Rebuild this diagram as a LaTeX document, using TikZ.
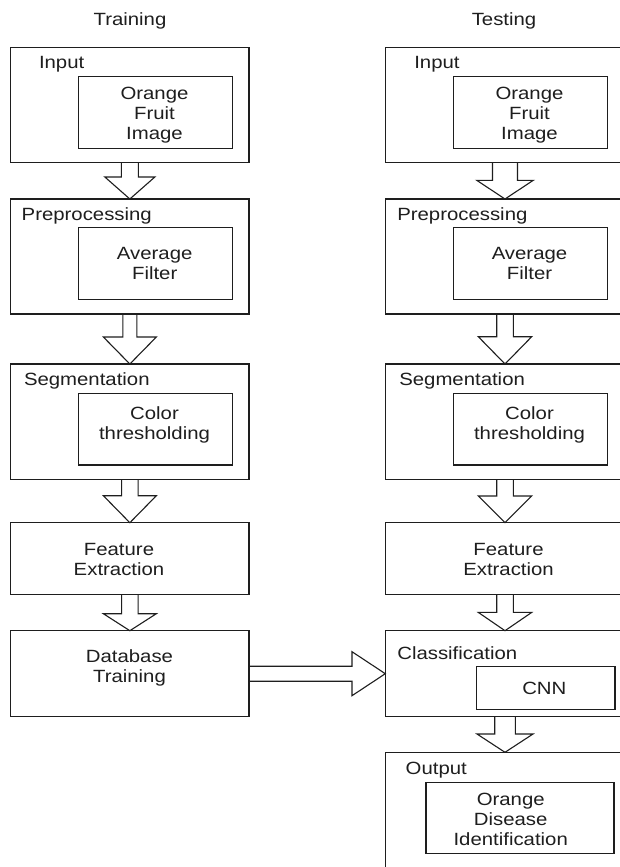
\documentclass[tikz,border=0pt]{standalone}
\usepackage{fontspec}
\setmainfont{Liberation Sans}[FakeStretch=1.15]
\usetikzlibrary{calc}
\definecolor{ink}{RGB}{30,30,30}
\tikzset{
  box/.style={draw=ink, line width=1.1pt, inner sep=0pt, outer sep=0pt, anchor=north west},
  txt/.style={text=ink, font=\fontsize{17.7}{20}\selectfont, inner sep=0pt, outer sep=0pt, align=center},
  blk/.style={draw=ink, line width=1.1pt, line join=miter},
}
% vertical block arrow: from, to, shaft half width, head half width, head length
\newcommand\varrow[5]{\draw[blk] ($(#1.south)+(-#3,0)$) -- ($(#2.north)+(-#3,-#5)$) -- ($(#2.north)+(-#4,-#5)$) -- (#2.north) -- ($(#2.north)+(#4,-#5)$) -- ($(#2.north)+(#3,-#5)$) -- ($(#1.south)+(#3,0)$);}
\begin{document}
\begin{tikzpicture}[x=1pt,y=-1pt]
\useasboundingbox (0,0) rectangle (620,867);
\fill[white] (0,0) rectangle (620,867);
\clip (0,0) rectangle (620,867);

% column titles
\node[txt, anchor=north] (ttrain) at (130,12.3) {Training};
\node[txt, anchor=north] (ttest) at (504,12.3) {Testing};

% ---------- Training column ----------
\node[box, minimum width=238.3pt, minimum height=115pt] (inL) at (10.7,47.7) {};
\node[txt, anchor=north west] (inLlab) at (39,56.7) {Input};
\node[box, minimum width=153.6pt, minimum height=72pt] (inLi) at (78.7,76.3) {};
\node[txt, anchor=north] (inLt) at (154.5,86.8) {Orange\\Fruit\\Image};

\node[box, minimum width=238.3pt, minimum height=115pt] (preL) at (10.7,199) {};
\node[txt, anchor=north west] (preLlab) at (21.7,207.3) {Preprocessing};
\node[box, minimum width=153.6pt, minimum height=71.6pt] (preLi) at (78.7,227.7) {};
\node[txt, anchor=north] (preLt) at (154.7,247.7) {Average\\Filter};

\node[box, minimum width=238.3pt, minimum height=115.3pt] (segL) at (10.7,364) {};
\node[txt, anchor=north west] (segLlab) at (24,372.3) {Segmentation};
\node[box, minimum width=153.6pt, minimum height=71.7pt] (segLi) at (78.7,393.3) {};
\node[txt, anchor=north] (segLt) at (154.5,406.7) {Color\\thresholding};

\node[box, minimum width=238.3pt, minimum height=71.6pt] (feaL) at (10.7,522.7) {};
\node[txt, anchor=north] (feaLt) at (119,543.3) {Feature\\Extraction};

\node[box, minimum width=238.3pt, minimum height=86pt] (dbL) at (10.7,630.7) {};
\node[txt, anchor=north] (dbLt) at (129.5,650) {Database\\Training};

% ---------- Testing column ----------
\node[box, minimum width=239.4pt, minimum height=115pt] (inR) at (385.3,47.7) {};
\node[txt, anchor=north west] (inRlab) at (414.3,56.7) {Input};
\node[box, minimum width=154pt, minimum height=72pt] (inRi) at (453.3,76.3) {};
\node[txt, anchor=north] (inRt) at (529.5,86.8) {Orange\\Fruit\\Image};

\node[box, minimum width=239.4pt, minimum height=115pt] (preR) at (385.3,199) {};
\node[txt, anchor=north west] (preRlab) at (397.3,207.3) {Preprocessing};
\node[box, minimum width=154pt, minimum height=71.6pt] (preRi) at (453.3,227.7) {};
\node[txt, anchor=north] (preRt) at (529.5,247.7) {Average\\Filter};

\node[box, minimum width=239.4pt, minimum height=115.3pt] (segR) at (385.3,364) {};
\node[txt, anchor=north west] (segRlab) at (399.3,372.3) {Segmentation};
\node[box, minimum width=154pt, minimum height=71.7pt] (segRi) at (453.3,393.3) {};
\node[txt, anchor=north] (segRt) at (529.5,406.7) {Color\\thresholding};

\node[box, minimum width=239.4pt, minimum height=71.6pt] (feaR) at (385.3,522.7) {};
\node[txt, anchor=north] (feaRt) at (508.5,543.3) {Feature\\Extraction};

\node[box, minimum width=239.4pt, minimum height=86pt] (clsR) at (385.3,630.7) {};
\node[txt, anchor=north west] (clsRlab) at (397.3,646.7) {Classification};
\node[box, minimum width=138.3pt, minimum height=42.6pt] (cnn) at (476.7,666.7) {};
\node[txt, anchor=north] (cnnt) at (544.3,682.5) {CNN};

\node[box, minimum width=239.4pt, minimum height=130pt] (outR) at (385.3,752.3) {};
\node[txt, anchor=north west] (outRlab) at (405.7,761.7) {Output};
\node[box, minimum width=188pt, minimum height=71pt] (outRi) at (426,782.3) {};
\node[txt, anchor=north] (outRt) at (510.7,793.3) {Orange\\Disease\\Identification};

% ---------- block arrows ----------
\varrow{inL}{preL}{8.5}{25}{22}
\varrow{preL}{segL}{7}{26.5}{27}
\varrow{segL}{feaL}{8.3}{26.5}{27}
\varrow{feaL}{dbL}{8.3}{26.5}{17}

\varrow{inR}{preR}{12.5}{28.3}{18.7}
\varrow{preR}{segR}{8.3}{26.7}{27.3}
\varrow{segR}{feaR}{8.3}{26.7}{26.7}
\varrow{feaR}{clsR}{8.3}{26.7}{18.3}
\varrow{clsR}{outR}{10.3}{28}{18.3}

% horizontal arrow Database -> Classification
\draw[blk] ($(dbL.east)+(0,-7.5)$) -- ($(clsR.west)+(-33.3,-7.5)$) -- ($(clsR.west)+(-33.3,-22)$) -- (clsR.west) -- ($(clsR.west)+(-33.3,22)$) -- ($(clsR.west)+(-33.3,7.5)$) -- ($(dbL.east)+(0,7.5)$);
\end{tikzpicture}
\end{document}
